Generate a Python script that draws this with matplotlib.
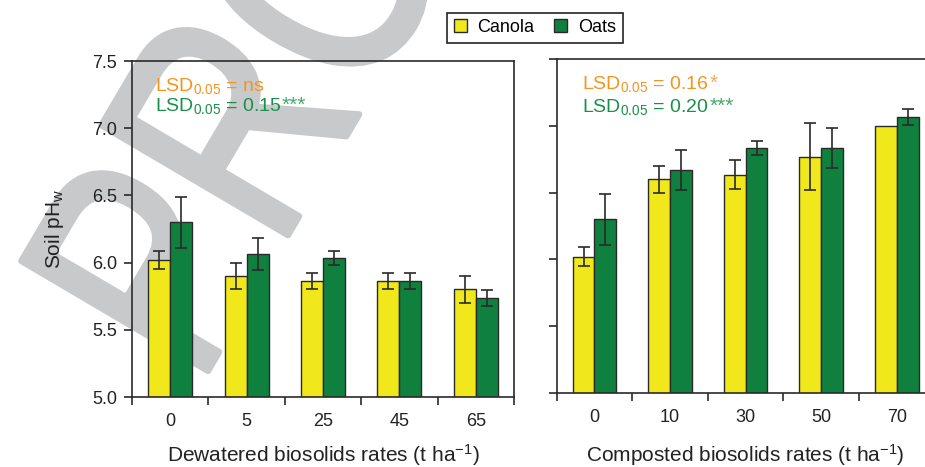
import numpy as np
import matplotlib.pyplot as plt
from matplotlib.patches import Patch, PathPatch
from matplotlib.textpath import TextPath
from matplotlib.font_manager import FontProperties
from matplotlib.transforms import Affine2D

plt.rcParams['font.family'] = ['Liberation Sans', 'DejaVu Sans']
plt.rcParams['mathtext.fontset'] = 'custom'
plt.rcParams['mathtext.rm'] = 'Liberation Sans'
plt.rcParams['mathtext.default'] = 'regular'

# data
dew_rates = ['0', '5', '25', '45', '65']
dew_canola = [6.02, 5.90, 5.865, 5.865, 5.80]
dew_canola_err = [0.07, 0.10, 0.06, 0.06, 0.10]
dew_oats = [6.30, 6.065, 6.035, 5.865, 5.735]
dew_oats_err = [0.19, 0.12, 0.055, 0.06, 0.06]

comp_rates = ['0', '10', '30', '50', '70']
comp_canola = [6.02, 6.60, 6.635, 6.77, 7.00]
comp_canola_err = [0.07, 0.10, 0.11, 0.25, 0.0]
comp_oats = [6.30, 6.67, 6.835, 6.835, 7.065]
comp_oats_err = [0.19, 0.15, 0.055, 0.15, 0.06]

CANOLA = '#f0e81a'
OATS = '#10803f'
ORANGE = '#f7941d'
GREEN_TXT = '#17914a'
EDGE = '#2a2a2a'


def lsd_line(ax, x, y, value, stars, color, star_color):
    t = ax.text(x, y, r'LSD$_{0.05}$ = ' + value, transform=ax.transAxes,
                color=color, fontsize=14, va='baseline')
    if stars:
        ax.annotate(stars, xy=(1.0, 1.0), xycoords=t, xytext=(0.5, 0),
                    textcoords='offset points', fontsize=15,
                    color=star_color, ha='left', va='top')


def draw_panel(ax, rates, canola, canola_err, oats, oats_err, lsd, xlabel, show_ylabels):
    x = np.arange(len(rates))
    w = 0.288
    ax.bar(x - w / 2, canola, w, color=CANOLA, edgecolor=EDGE, linewidth=1.0, zorder=2)
    ax.bar(x + w / 2, oats, w, color=OATS, edgecolor=EDGE, linewidth=1.0, zorder=2)
    for xs, vals, errs in [(x - w / 2, canola, canola_err), (x + w / 2, oats, oats_err)]:
        keep = [i for i, e in enumerate(errs) if e > 0]
        ax.errorbar([xs[i] for i in keep], [vals[i] for i in keep],
                    yerr=[errs[i] for i in keep], fmt='none', ecolor=EDGE,
                    elinewidth=1.2, capsize=4.3, capthick=1.2, zorder=3)

    ax.set_xlim(-0.5, len(rates) - 0.5)
    ax.set_ylim(5.0, 7.5)
    ax.set_facecolor('none')
    for s in ax.spines.values():
        s.set_linewidth(1.2)
        s.set_color(EDGE)

    ax.set_xticks(np.arange(-0.5, len(rates), 1))
    ax.set_xticks(x, minor=True)
    ax.set_xticklabels(rates, minor=True)
    ax.tick_params(axis='x', which='major', labelbottom=False, length=5.8, width=1.2, color=EDGE)
    ax.tick_params(axis='x', which='minor', length=0, pad=11.5, labelsize=13, labelcolor='#222')

    ax.set_yticks([5.0, 5.5, 6.0, 6.5, 7.0, 7.5])
    ax.set_yticklabels(['5.0', '5.5', '6.0', '6.5', '7.0', '7.5'] if show_ylabels else [])
    ax.tick_params(axis='y', length=5.8, width=1.2, color=EDGE, pad=5, labelsize=13, labelcolor='#222')

    xt, y1, y2 = lsd[0]
    lsd_line(ax, xt, y1, lsd[1][0], lsd[1][1], ORANGE, '#f9a94a')
    lsd_line(ax, xt, y2, lsd[2][0], lsd[2][1], GREEN_TXT, '#45a86c')

    ax.set_xlabel(xlabel, fontsize=15, color='#222')
    ax.xaxis.label.set_va('center')


fig = plt.figure(figsize=(9.25, 4.67), dpi=100)

# "PROOF" watermark, condensed and rotated, behind everything
wm = TextPath((0, 0), 'PROOF', size=315, prop=FontProperties(family='Liberation Sans'))
wm_tr = Affine2D().scale(0.75, 1.0).rotate_deg(59.5).translate(198.2, 79.3)
fig.add_artist(PathPatch(wm, transform=wm_tr, facecolor='#c8c9cb', edgecolor='#c8c9cb',
                         linewidth=4.5, joinstyle='round', zorder=-1))

ax1 = fig.add_axes([132 / 925, 1 - 397 / 467, 382 / 925, 336 / 467])
ax2 = fig.add_axes([556.7 / 925, 1 - 392.7 / 467, 377.9 / 925, 333.4 / 467])

draw_panel(ax1, dew_rates, dew_canola, dew_canola_err, dew_oats, dew_oats_err,
           ((0.06, 0.9116, 0.852), ('ns', ''), ('0.15', '***')),
           r'Dewatered biosolids rates (t ha$^{-1}$)', True)
draw_panel(ax2, comp_rates, comp_canola, comp_canola_err, comp_oats, comp_oats_err,
           ((0.068, 0.910, 0.843), ('0.16', '*'), ('0.20', '***')),
           r'Composted biosolids rates (t ha$^{-1}$)', False)

ax1.xaxis.set_label_coords(0.5, -0.173)
ax2.xaxis.set_label_coords(0.5, -0.187)
ax1.set_ylabel(r'Soil pH$_{w}$', fontsize=15, color='#222')
ax1.yaxis.set_label_coords(-0.2016, 0.5)
ax1.yaxis.label.set_va('center')

handles = [Patch(facecolor=CANOLA, edgecolor=EDGE, linewidth=1.0),
           Patch(facecolor=OATS, edgecolor=EDGE, linewidth=1.0)]
leg = fig.legend(handles, ['Canola', 'Oats'], loc='center',
                 bbox_to_anchor=(535 / 925, 1 - 27.7 / 467), ncol=2, fontsize=13,
                 frameon=True, fancybox=False, edgecolor='#222', framealpha=1,
                 handlelength=0.72, handleheight=0.72, handletextpad=0.6,
                 columnspacing=1.1, borderpad=0.35, borderaxespad=0)
leg.get_frame().set_linewidth(1.2)

fig.savefig('out.png', dpi=100)
